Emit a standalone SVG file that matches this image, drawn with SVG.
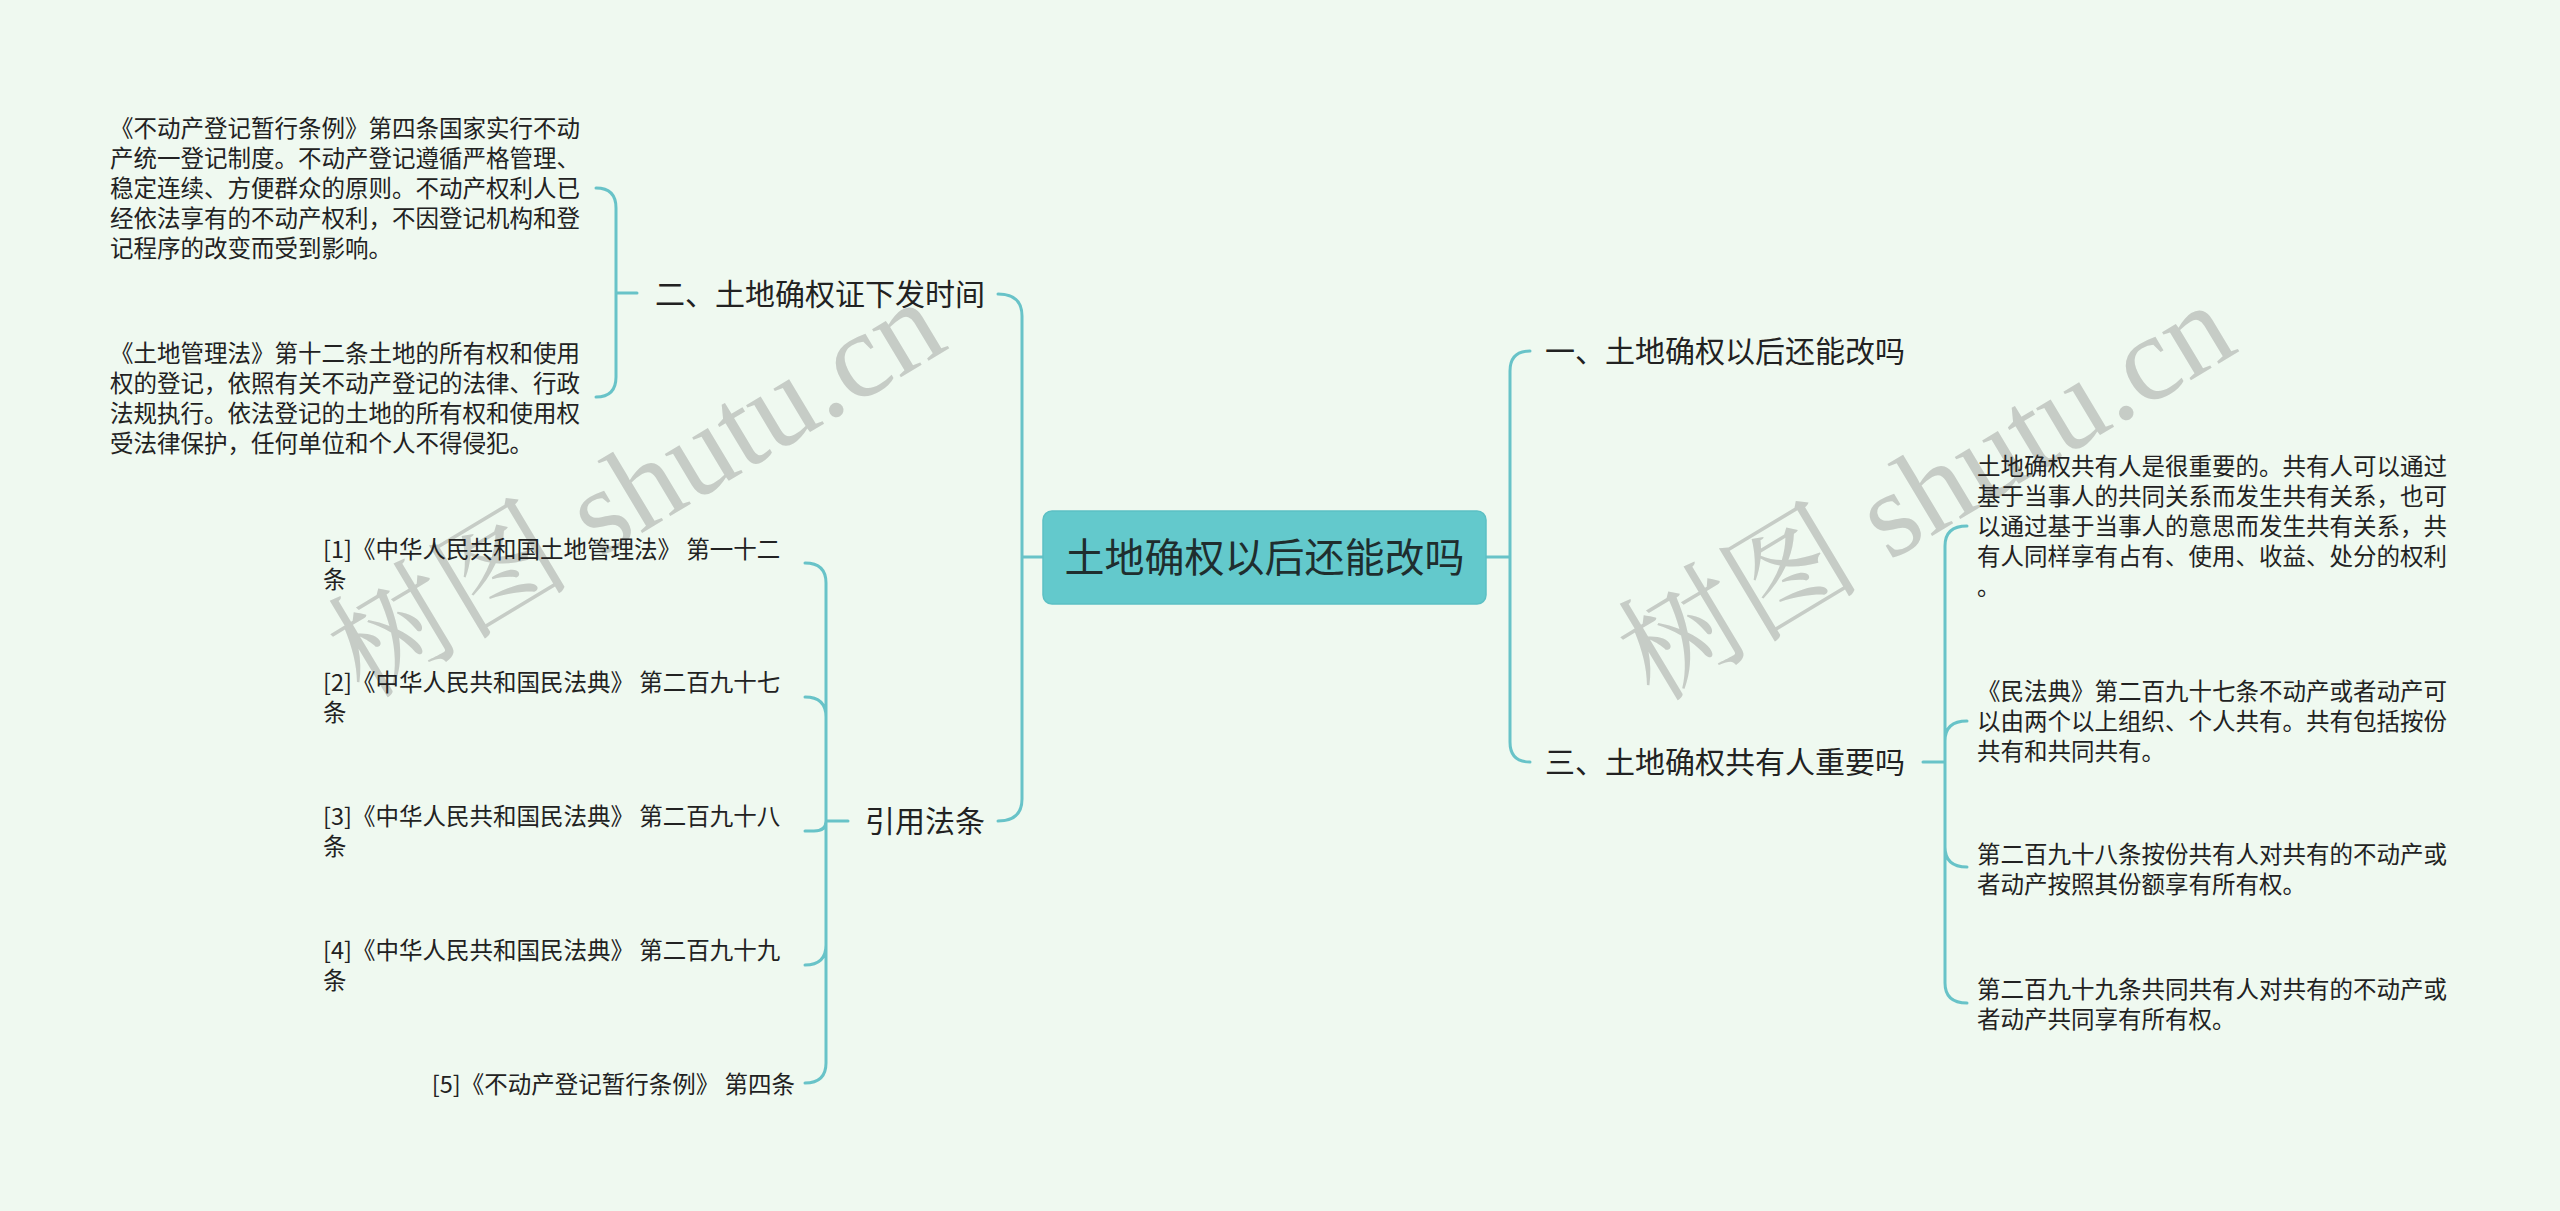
<svg xmlns="http://www.w3.org/2000/svg" width="2560" height="1211" viewBox="0 0 2560 1211">
<style>
.bg{fill:#eff9f0}
.wm{font-family:"Liberation Serif","Noto Serif CJK SC","Noto Sans CJK SC",serif;font-size:122px;fill:#c6ccc6}
.t{font-family:"Noto Sans CJK SC","Noto Sans",sans-serif;fill:#222222}
.leaf{font-size:23.5px}
.br{font-size:30px}
.root{font-size:40px;fill:#1f2e2e}
.c{fill:none;stroke:#68c3c8;stroke-width:3;stroke-linecap:round}
</style>
<rect class="bg" x="0" y="0" width="2560" height="1211"/>
<g id="watermark">
<text class="wm" transform="translate(364,700) rotate(-31)">树图 shutu.cn</text>
<text class="wm" transform="translate(1654,703) rotate(-31)">树图 shutu.cn</text>
</g>
<g id="connectors">
<path class="c" d="M1043 557 H1022 M998 294 Q1022 294 1022 316 V799 Q1022 821 998 821"/>
<path class="c" d="M1486 557 H1510 M1530 351 Q1510 351 1510 371 V742 Q1510 762 1530 762"/>
<path class="c" d="M637 293 H616 M596 188 Q616 188 616 208 V377 Q616 397 596 397"/>
<path class="c" d="M848 821 H826 M805 563 Q826 563 826 583 V1063 Q826 1083 805 1083 M805 697 Q826 697 826 717 M826 821 Q826 831 814 831 H805 M826 945 Q826 965 805 965"/>
<path class="c" d="M1923 762 H1945 M1967 526 Q1945 526 1945 546 V983 Q1945 1003 1967 1003 M1945 741 Q1945 721 1967 721 M1945 847 Q1945 867 1967 867"/>
</g>
<g id="root">
<rect x="1043" y="511" width="443" height="93" rx="9" fill="#63c9cc" stroke="#5cc0c4" stroke-width="1.5"/>
<text class="t root" x="1264.5" y="572" text-anchor="middle">土地确权以后还能改吗</text>
</g>
<g id="b2">
<text class="t br" x="985" y="305" text-anchor="end">二、土地确权证下发时间</text>
</g>
<g id="b4">
<text class="t br" x="985" y="832" text-anchor="end">引用法条</text>
</g>
<g id="b1">
<text class="t br" x="1545" y="362">一、土地确权以后还能改吗</text>
</g>
<g id="b3">
<text class="t br" x="1545" y="773">三、土地确权共有人重要吗</text>
</g>
<g id="l2a">
<text class="t leaf" x="110" y="137"><tspan x="110">《不动产登记暂行条例》第四条国家实行不动</tspan><tspan x="110" dy="30">产统一登记制度。不动产登记遵循严格管理、</tspan><tspan x="110" dy="30">稳定连续、方便群众的原则。不动产权利人已</tspan><tspan x="110" dy="30">经依法享有的不动产权利，不因登记机构和登</tspan><tspan x="110" dy="30">记程序的改变而受到影响。</tspan></text>
</g>
<g id="l2b">
<text class="t leaf" x="110" y="362"><tspan x="110">《土地管理法》第十二条土地的所有权和使用</tspan><tspan x="110" dy="30">权的登记，依照有关不动产登记的法律、行政</tspan><tspan x="110" dy="30">法规执行。依法登记的土地的所有权和使用权</tspan><tspan x="110" dy="30">受法律保护，任何单位和个人不得侵犯。</tspan></text>
</g>
<g id="ref1">
<text class="t leaf" x="323" y="558" xml:space="preserve"><tspan x="323">[1]《中华人民共和国土地管理法》 第一十二</tspan><tspan x="323" dy="30">条</tspan></text>
</g>
<g id="ref2">
<text class="t leaf" x="323" y="691" xml:space="preserve"><tspan x="323">[2]《中华人民共和国民法典》 第二百九十七</tspan><tspan x="323" dy="30">条</tspan></text>
</g>
<g id="ref3">
<text class="t leaf" x="323" y="825" xml:space="preserve"><tspan x="323">[3]《中华人民共和国民法典》 第二百九十八</tspan><tspan x="323" dy="30">条</tspan></text>
</g>
<g id="ref4">
<text class="t leaf" x="323" y="959" xml:space="preserve"><tspan x="323">[4]《中华人民共和国民法典》 第二百九十九</tspan><tspan x="323" dy="30">条</tspan></text>
</g>
<g id="ref5">
<text class="t leaf" x="795" y="1093" text-anchor="end" xml:space="preserve">[5]《不动产登记暂行条例》 第四条</text>
</g>
<g id="l3a">
<text class="t leaf" x="1977" y="475"><tspan x="1977">土地确权共有人是很重要的。共有人可以通过</tspan><tspan x="1977" dy="30">基于当事人的共同关系而发生共有关系，也可</tspan><tspan x="1977" dy="30">以通过基于当事人的意思而发生共有关系，共</tspan><tspan x="1977" dy="30">有人同样享有占有、使用、收益、处分的权利</tspan><tspan x="1977" dy="30">。</tspan></text>
</g>
<g id="l3b">
<text class="t leaf" x="1977" y="700"><tspan x="1977">《民法典》第二百九十七条不动产或者动产可</tspan><tspan x="1977" dy="30">以由两个以上组织、个人共有。共有包括按份</tspan><tspan x="1977" dy="30">共有和共同共有。</tspan></text>
</g>
<g id="l3c">
<text class="t leaf" x="1977" y="863"><tspan x="1977">第二百九十八条按份共有人对共有的不动产或</tspan><tspan x="1977" dy="30">者动产按照其份额享有所有权。</tspan></text>
</g>
<g id="l3d">
<text class="t leaf" x="1977" y="998"><tspan x="1977">第二百九十九条共同共有人对共有的不动产或</tspan><tspan x="1977" dy="30">者动产共同享有所有权。</tspan></text>
</g>
</svg>
